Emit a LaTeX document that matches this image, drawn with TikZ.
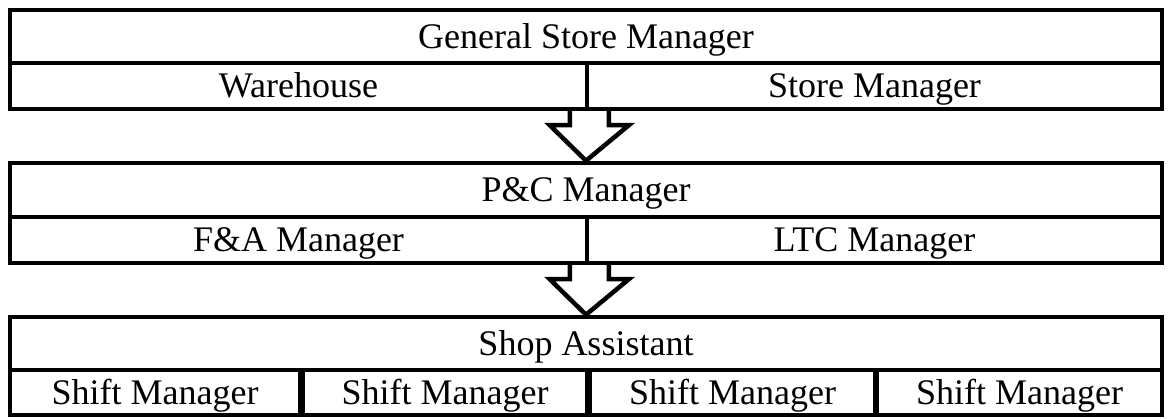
\documentclass[tikz,border=0pt]{standalone}
\usepackage{fontspec}
\setmainfont{Liberation Serif}
\usetikzlibrary{calc}
\begin{document}
\begin{tikzpicture}[x=1pt,y=-1pt,
  cell/.style={draw=black, line width=4.5pt, fill=white, rectangle, inner sep=0pt,
    font=\fontsize{36}{40}\selectfont, text height=24pt, text depth=0pt},
  blockarrow/.style={draw=black, line width=4.5pt, fill=white, line join=miter}
]
\useasboundingbox (0,0) rectangle (1170,419);

% tier 1
\node[cell, minimum width=1152pt, minimum height=53pt] (gsm) at (586,36.5) {General Store Manager};
\node[cell, minimum width=577pt, minimum height=46pt] (wh) at (298.5,86) {Warehouse};
\node[cell, minimum width=575pt, minimum height=46pt] (sm) at (874.5,86) {Store Manager};

% tier 2
\node[cell, minimum width=1152pt, minimum height=54pt] (pc) at (586,190) {P\&C Manager};
\node[cell, minimum width=577pt, minimum height=46pt] (fa) at (298.5,240) {F\&A Manager};
\node[cell, minimum width=575pt, minimum height=46pt] (ltc) at (874.5,240) {LTC Manager};

% tier 3
\node[cell, minimum width=1152pt, minimum height=53pt] (sa) at (586,343.5) {Shop Assistant};
\node[cell, minimum width=290pt, minimum height=45pt] (sh1) at (155,392.5) {Shift Manager};
\node[cell, minimum width=284pt, minimum height=45pt] (sh2) at (445,392.5) {Shift Manager};
\node[cell, minimum width=285pt, minimum height=45pt] (sh3) at (732.5,392.5) {Shift Manager};
\node[cell, minimum width=285pt, minimum height=45pt] (sh4) at (1019.5,392.5) {Shift Manager};

% block arrows between tiers
\foreach \src/\dst in {wh/pc, fa/sa}{
  \coordinate (s) at ($(\src.south east)$);
  \coordinate (t) at ($(\dst.north)$);
  \draw[blockarrow]
    ($(s)+(-19.5,0)$) -- ($(s)+(-19.5,14)$) -- ($(s)+(-39.5,14)$) -- (t)
    -- ($(s)+(39.5,14)$) -- ($(s)+(19.5,14)$) -- ($(s)+(19.5,0)$);
}
\end{tikzpicture}
\end{document}
